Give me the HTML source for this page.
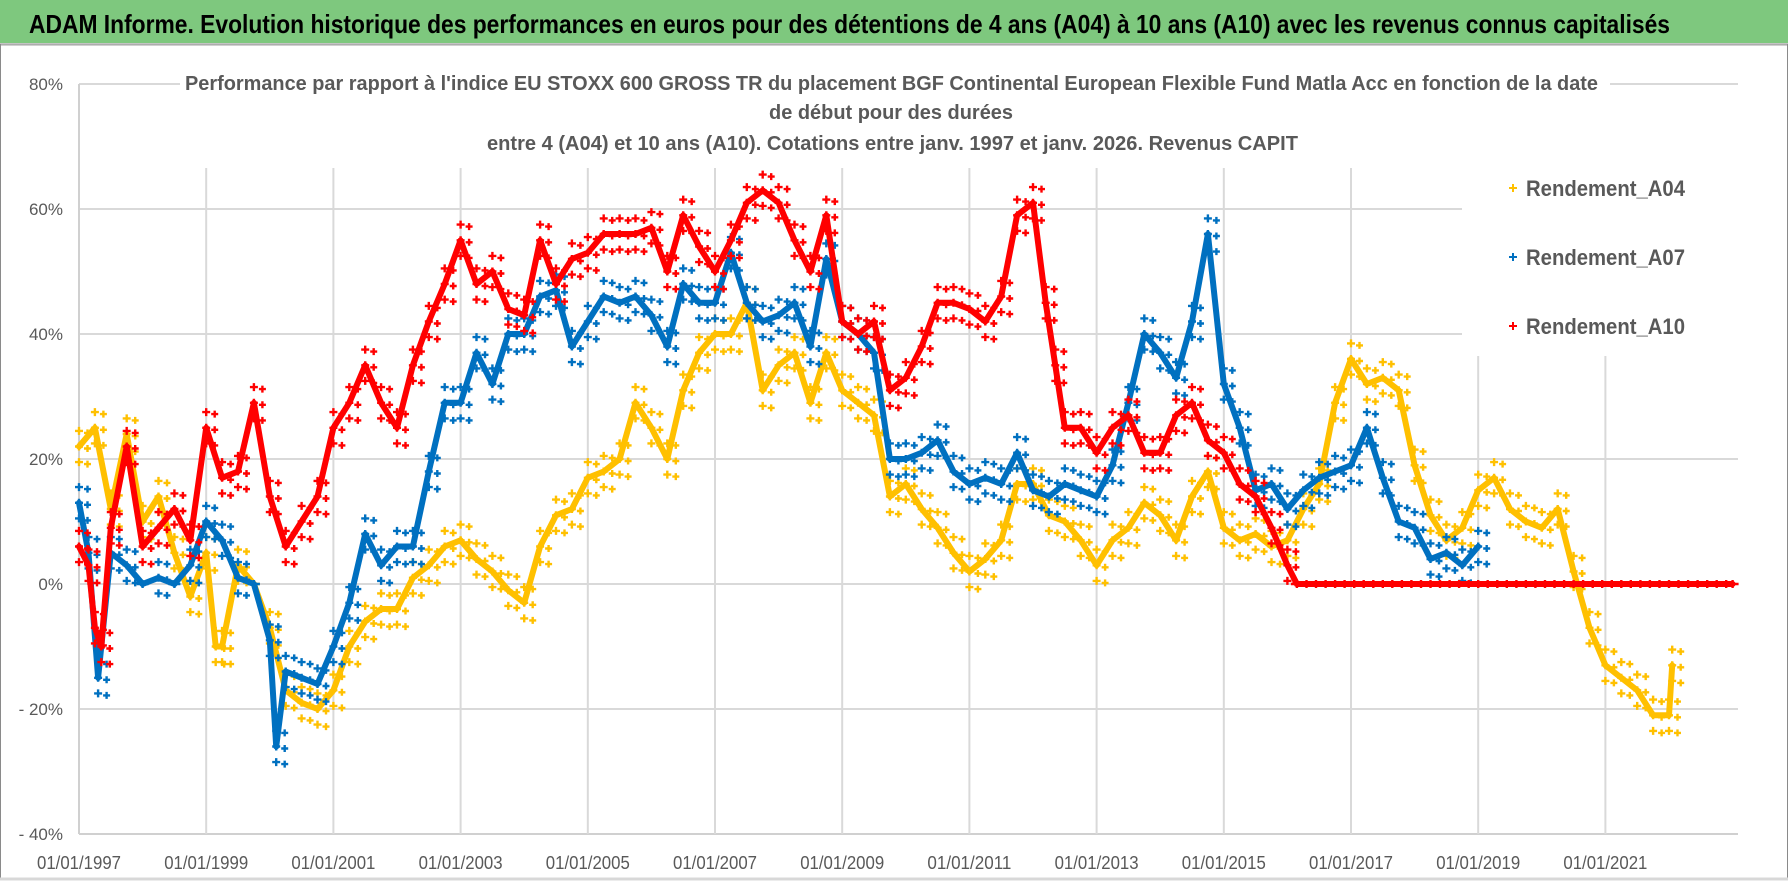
<!DOCTYPE html>
<html><head><meta charset="utf-8"><style>
html,body{margin:0;padding:0;background:#fff}
svg{display:block}
text{font-family:"Liberation Sans","DejaVu Sans",sans-serif}
</style></head><body>
<svg id="chart" width="1790" height="886" viewBox="0 0 1790 886" xmlns="http://www.w3.org/2000/svg">
<rect x="0" y="0" width="1790" height="886" fill="#fff"/>
<rect x="0" y="0" width="1788" height="43" fill="#7ec87e"/>
<text x="29" y="33" font-size="26" font-weight="bold" fill="#000" textLength="1641" lengthAdjust="spacingAndGlyphs">ADAM Informe. Evolution historique des performances en euros pour des détentions de 4 ans (A04) à 10 ans (A10) avec les revenus connus capitalisés</text>
<line x1="0" y1="45" x2="1788" y2="45" stroke="#d0d0d0" stroke-width="2"/>
<rect x="0.5" y="44" width="1787" height="834" fill="none" stroke="#8a8a8a" stroke-width="1"/>
<line x1="0" y1="879" x2="1788" y2="879" stroke="#d8d8d8" stroke-width="3"/>
<g id="grid"></g>
<g id="yaxis"></g>
<g id="xaxis"></g>
<g id="series"></g>
<rect x="180" y="68" width="1430" height="98" fill="#fff"/>
<g fill="#595959" font-weight="bold" font-size="20">
<text x="185" y="90" textLength="1413" lengthAdjust="spacingAndGlyphs">Performance par rapport à l'indice EU STOXX 600 GROSS TR  du placement BGF Continental European Flexible Fund Matla Acc en fonction de la date</text>
<text x="769" y="119" textLength="244" lengthAdjust="spacingAndGlyphs">de début pour des durées</text>
<text x="487" y="150" textLength="811" lengthAdjust="spacingAndGlyphs">entre 4 (A04) et 10 ans (A10).  Cotations entre janv. 1997 et janv. 2026. Revenus CAPIT</text>
</g>
<rect x="1462" y="160" width="285" height="196" fill="#fff"/>
<g id="legend"></g>
</svg>
<script>
// ---- data (years as decimal, values in %) ----
const a04Years = [1997.0,1997.25,1997.5,1997.75,1998.0,1998.25,1998.5,1998.75,1999.0,1999.15,1999.25,1999.5,1999.75,2000.0,2000.25,2000.5,2000.75,2001.0,2001.25,2001.5,2001.75,2002.0,2002.25,2002.5,2002.75,2003.0,2003.25,2003.5,2003.75,2004.0,2004.25,2004.5,2004.75,2005.0,2005.25,2005.5,2005.75,2006.0,2006.25,2006.5,2006.75,2007.0,2007.25,2007.5,2007.75,2008.0,2008.25,2008.5,2008.75,2009.0,2009.25,2009.5,2009.75,2010.0,2010.25,2010.5,2010.75,2011.0,2011.25,2011.5,2011.75,2012.0,2012.25,2012.5,2012.75,2013.0,2013.25,2013.5,2013.75,2014.0,2014.25,2014.5,2014.75,2015.0,2015.25,2015.5,2015.75,2016.0,2016.25,2016.5,2016.75,2017.0,2017.25,2017.5,2017.75,2018.0,2018.25,2018.5,2018.75,2019.0,2019.25,2019.5,2019.75,2020.0,2020.25,2020.5,2020.75,2021.0,2021.25,2021.5,2021.75,2022.0,2022.05];
const a04Values = [22,25,12,24,10,14,5,-2,5,-10,-10,3,0,-7,-17,-19,-20,-17,-10,-6,-4,-4,1,3,6,7,4,2,-1,-3,6,11,12,17,18,20,29,25,20,31,37,40,40,45,31,35,37,29,37,31,29,27,14,16,12,9,5,2,4,7,16,16,11,10,7,3,7,9,13,11,7,14,18,9,7,8,6,7,12,16,29,36,32,33,31,19,11,7,9,15,17,12,10,9,12,2,-7,-13,-15,-17,-21,-21,-13];
const a07Years = [1997.0,1997.15,1997.3,1997.5,1997.75,1998.0,1998.25,1998.5,1998.75,1999.0,1999.25,1999.5,1999.75,2000.0,2000.1,2000.25,2000.5,2000.75,2001.0,2001.25,2001.5,2001.75,2002.0,2002.25,2002.5,2002.75,2003.0,2003.25,2003.5,2003.75,2004.0,2004.25,2004.5,2004.75,2005.0,2005.25,2005.5,2005.75,2006.0,2006.25,2006.5,2006.75,2007.0,2007.25,2007.5,2007.75,2008.0,2008.25,2008.5,2008.75,2009.0,2009.25,2009.5,2009.75,2010.0,2010.25,2010.5,2010.75,2011.0,2011.25,2011.5,2011.75,2012.0,2012.25,2012.5,2012.75,2013.0,2013.25,2013.5,2013.75,2014.0,2014.25,2014.5,2014.75,2015.0,2015.25,2015.5,2015.75,2016.0,2016.25,2016.5,2016.75,2017.0,2017.25,2017.5,2017.75,2018.0,2018.25,2018.5,2018.75,2019.0];
const a07Values = [13,5,-15,5,3,0,1,0,3,10,7,1,0,-9,-26,-14,-15,-16,-10,-3,8,3,6,6,18,29,29,37,32,40,40,46,47,38,42,46,45,46,43,38,48,45,45,53,45,42,43,45,38,52,42,40,37,20,20,21,23,18,16,17,16,21,15,14,16,15,14,19,29,40,37,33,42,56,32,25,15,16,12,15,17,18,19,25,17,10,9,4,5,3,6];
const a10Years = [1997.0,1997.15,1997.25,1997.35,1997.5,1997.75,1998.0,1998.25,1998.5,1998.75,1999.0,1999.25,1999.5,1999.75,2000.0,2000.25,2000.5,2000.75,2001.0,2001.25,2001.5,2001.75,2002.0,2002.25,2002.5,2002.75,2003.0,2003.25,2003.5,2003.75,2004.0,2004.25,2004.5,2004.75,2005.0,2005.25,2005.5,2005.75,2006.0,2006.25,2006.5,2006.75,2007.0,2007.25,2007.5,2007.75,2008.0,2008.25,2008.5,2008.75,2009.0,2009.25,2009.5,2009.75,2010.0,2010.25,2010.5,2010.75,2011.0,2011.25,2011.5,2011.75,2012.0,2012.2,2012.35,2012.5,2012.75,2013.0,2013.25,2013.5,2013.75,2014.0,2014.25,2014.5,2014.75,2015.0,2015.25,2015.5,2015.75,2016.0,2016.15,2016.3,2016.45,2016.6,2016.75,2016.9,2017.05,2017.2,2017.35,2017.5,2017.65,2017.8,2017.95,2018.1,2018.25,2018.4,2018.55,2018.7,2018.85,2019.0,2019.15,2019.3,2019.45,2019.6,2019.75,2019.9,2020.05,2020.2,2020.35,2020.5,2020.65,2020.8,2020.95,2021.1,2021.25,2021.4,2021.55,2021.7,2021.85,2022.0,2022.15,2022.3,2022.45,2022.6,2022.75,2022.9,2023.0];
const a10Values = [6,3,-7,-10,9,22,6,9,12,7,25,17,18,29,14,6,10,14,25,29,35,29,25,35,42,48,55,48,50,44,43,55,48,52,53,56,56,56,57,50,59,54,50,55,61,63,61,55,50,59,42,40,42,31,33,38,45,45,44,42,46,59,61,45,35,25,25,21,25,27,21,21,27,29,23,21,16,14,9,3,0,0,0,0,0,0,0,0,0,0,0,0,0,0,0,0,0,0,0,0,0,0,0,0,0,0,0,0,0,0,0,0,0,0,0,0,0,0,0,0,0,0,0,0,0,0,0];
const yTicks = [80,60,40,20,0,-20,-40];
const yTickLabels = ["80%","60%","40%","20%","0%","- 20%","- 40%"];
const xTickYears = [1997,1999,2001,2003,2005,2007,2009,2011,2013,2015,2017,2019,2021];
const xTickLabels = ["01/01/1997","01/01/1999","01/01/2001","01/01/2003","01/01/2005","01/01/2007","01/01/2009","01/01/2011","01/01/2013","01/01/2015","01/01/2017","01/01/2019","01/01/2021"];
const seriesNames = ["Rendement_A04","Rendement_A07","Rendement_A10"];

// ---- axes ----
const NS = "http://www.w3.org/2000/svg";
const X0 = 79, X1 = 1738, Y0 = 84, Y1 = 834;
function xScale(yr){ return X0 + (yr - 1997) * 63.6; }
function yScale(p){ return 584 - p * 6.25; }
function mk(tag, attrs, parent){ const e = document.createElementNS(NS, tag); for (const k in attrs) e.setAttribute(k, attrs[k]); parent.appendChild(e); return e; }

const grid = document.getElementById('grid');
yTicks.forEach((t,i)=>{
  const l = mk('line',{x1:X0,x2:X1,y1:yScale(t),y2:yScale(t),stroke:(t===-40?'#d0d0d0':'#d9d9d9'),'stroke-width':2},grid);
  
  
});
xTickYears.forEach((yr,i)=>{
  if(i===0) return;
  const l = mk('line',{x1:xScale(yr),x2:xScale(yr),y1:168,y2:Y1,stroke:'#d9d9d9','stroke-width':2},grid);
  
  
});
const ax = mk('line',{x1:X0,x2:X0,y1:Y0,y2:Y1,stroke:'#d0d0d0','stroke-width':2},grid);



const yax = document.getElementById('yaxis');
yTicks.forEach((t,i)=>{
  const tx = mk('text',{x:63,y:yScale(t)+6,'text-anchor':'end','font-size':17,fill:'#595959'},yax);
  tx.textContent = yTickLabels[i];
  
  
});
const xax = document.getElementById('xaxis');
xTickYears.forEach((yr,i)=>{
  const cx = xScale(yr);
  const tx = mk('text',{x:cx-42,y:869,'font-size':18,fill:'#595959',textLength:84,lengthAdjust:'spacingAndGlyphs'},xax);
  tx.textContent = xTickLabels[i];
  
  
});

// ---- series ----
const ser = document.getElementById('series');
function drawSeries(years, vals, color, name){
  const g = mk('g',{stroke:color,fill:'none'},ser);
  
  
  // dense band following the point cloud
  let pts = '';
  for (let i=0;i<years.length;i++) pts += xScale(years[i]).toFixed(1)+','+yScale(vals[i]).toFixed(1)+' ';
  const band = mk('polyline',{points:pts,'stroke-width':6,'stroke-linejoin':'round','stroke-linecap':'round'},g);
  
  
  let d = '';
  for (let i=0;i<years.length;i++){
    const x = xScale(years[i]);
    const offs = vals[i]===0 ? [0] : [-2.5,0,2.5];
    for (const o of offs){
      const y = yScale(vals[i]+o);
      const hw = vals[i]===0 ? 6 : 4;
      d += `M${(x-hw).toFixed(1)} ${y.toFixed(1)}h${2*hw}M${x.toFixed(1)} ${(y-4).toFixed(1)}v8`;
      if (vals[i]!==0){ d += `M${(x+5).toFixed(1)} ${(y+2).toFixed(1)}h7M${(x+8.5).toFixed(1)} ${(y-1.5).toFixed(1)}v7`; }
    }
  }
  const p = mk('path',{d:d,'stroke-width':2.4},g);
  
  
}
drawSeries(a04Years, a04Values, '#ffc000', 'series-a04');
drawSeries(a07Years, a07Values, '#0070c0', 'series-a07');
drawSeries(a10Years, a10Values, '#ff0000', 'series-a10');

// ---- legend ----
const leg = document.getElementById('legend');
const legColors = ['#ffc000','#0070c0','#ff0000'];
const legY = [188,257,326];
seriesNames.forEach((n,i)=>{
  const g = mk('g',{},leg);
  
  
  const m = mk('path',{d:`M${1509} ${legY[i]}h8M${1513} ${legY[i]-4}v8`,stroke:legColors[i],'stroke-width':2},g);
  
  
  const t = mk('text',{x:1526,y:legY[i]+8,'font-size':22,'font-weight':'bold',fill:'#595959',textLength:159,lengthAdjust:'spacingAndGlyphs'},g);
  t.textContent = n;
  
  
});
</script>
</body></html>
